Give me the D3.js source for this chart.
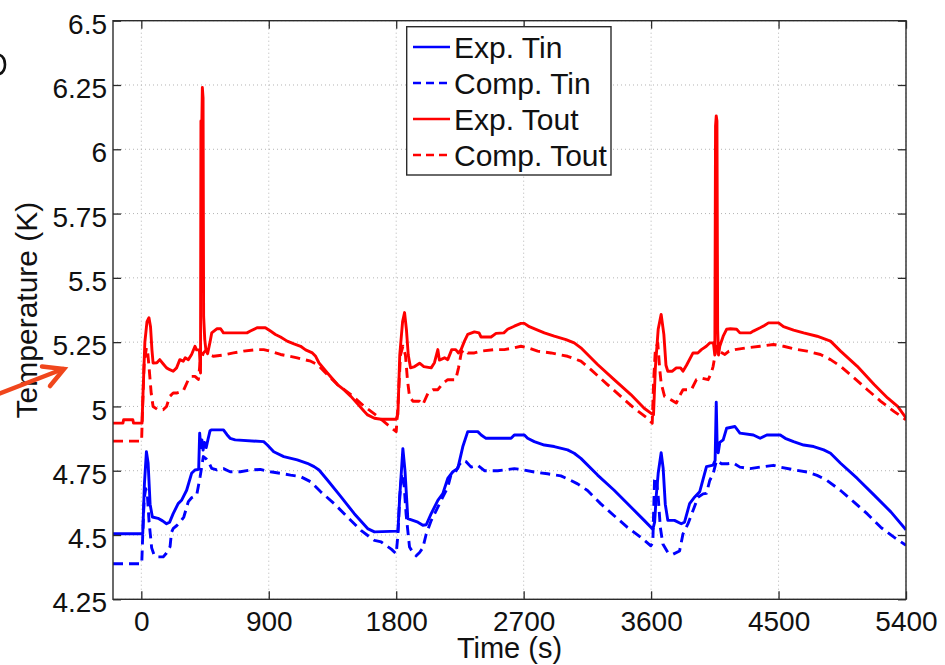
<!DOCTYPE html>
<html>
<head>
<meta charset="utf-8">
<script src="https://cdn.jsdelivr.net/npm/d3@7"></script>
<style>
  html, body { margin: 0; padding: 0; background: #fff; }
  svg { display: block; }
  text { font-family: "Liberation Sans", Arial, Helvetica, sans-serif; fill: #111; }
</style>
</head>
<body>
<svg id="chart" width="945" height="665"></svg>
<script>
// Axis ticks
const xTicks = [0, 900, 1800, 2700, 3600, 4500, 5400];
const yTicks = [4.25, 4.5, 4.75, 5, 5.25, 5.5, 5.75, 6, 6.25, 6.5];

// Series: [time (s), temperature (K)]
const expTin = [
  [-200,4.505],[10,4.505],[22,4.70],[36,4.824],[48,4.78],[62,4.62],[78,4.57],[118,4.565],[150,4.555],[178,4.544],
  [200,4.55],[225,4.583],[260,4.622],[284,4.635],[320,4.674],[355,4.74],[379,4.753],[405,4.755],[412,4.896],[420,4.84],
  [428,4.87],[436,4.83],[446,4.86],[458,4.84],[470,4.87],[485,4.905],[497,4.909],[580,4.909],[605,4.89],[627,4.876],
  [663,4.87],[864,4.863],[890,4.85],[935,4.824],[1006,4.805],[1101,4.792],[1172,4.779],[1220,4.766],[1255,4.753],
  [1314,4.714],[1409,4.649],[1504,4.583],[1598,4.525],[1646,4.512],[1812,4.515],[1825,4.65],[1847,4.836],[1862,4.75],
  [1882,4.564],[1953,4.55],[1988,4.538],[2012,4.54],[2047,4.583],[2094,4.635],[2129,4.661],[2164,4.72],[2200,4.746],
  [2235,4.759],[2270,4.843],[2305,4.902],[2376,4.902],[2400,4.889],[2434,4.876],[2611,4.876],[2634,4.889],[2705,4.889],
  [2728,4.876],[2775,4.863],[2846,4.85],[2916,4.844],[3010,4.831],[3057,4.818],[3104,4.798],[3222,4.733],[3339,4.674],
  [3457,4.609],[3551,4.557],[3612,4.522],[3625,4.55],[3636,4.65],[3650,4.74],[3671,4.82],[3685,4.76],[3700,4.62],
  [3718,4.557],[3765,4.557],[3813,4.544],[3836,4.55],[3872,4.622],[3908,4.648],[3943,4.668],[3991,4.766],[4038,4.772],
  [4052,4.79],[4060,5.016],[4066,4.86],[4074,4.82],[4085,4.86],[4109,4.87],[4133,4.915],[4192,4.922],[4227,4.896],
  [4322,4.889],[4370,4.876],[4417,4.889],[4512,4.889],[4547,4.876],[4606,4.863],[4677,4.85],[4748,4.844],[4819,4.831],
  [4867,4.818],[4938,4.779],[5056,4.72],[5175,4.655],[5293,4.59],[5400,4.52]
];

const compTin = [
  [-200,4.388],[3,4.388],[10,4.5],[20,4.64],[31,4.68],[42,4.66],[55,4.55],[73,4.45],[90,4.423],[107,4.415],[155,4.415],
  [178,4.43],[203,4.455],[213,4.51],[226,4.526],[249,4.536],[273,4.55],[300,4.57],[332,4.63],[355,4.645],[391,4.655],
  [415,4.726],[438,4.805],[460,4.795],[474,4.785],[497,4.759],[533,4.753],[580,4.758],[627,4.746],[699,4.746],
  [770,4.753],[841,4.755],[912,4.746],[983,4.74],[1054,4.733],[1125,4.727],[1196,4.707],[1267,4.668],[1362,4.622],
  [1456,4.57],[1551,4.518],[1646,4.479],[1694,4.473],[1765,4.445],[1800,4.427],[1812,4.5],[1825,4.65],[1840,4.74],
  [1855,4.7],[1870,4.58],[1894,4.453],[1918,4.432],[1941,4.419],[1965,4.432],[1988,4.45],[2012,4.504],[2047,4.556],
  [2082,4.595],[2117,4.634],[2164,4.686],[2188,4.737],[2223,4.75],[2247,4.775],[2270,4.79],[2294,4.785],[2329,4.764],
  [2376,4.771],[2423,4.75],[2517,4.75],[2634,4.758],[2680,4.755],[2775,4.745],[2869,4.738],[2963,4.73],[3034,4.712],
  [3081,4.699],[3151,4.673],[3245,4.621],[3339,4.575],[3433,4.53],[3527,4.491],[3598,4.458],[3612,4.47],[3624,4.712],
  [3636,4.725],[3650,4.65],[3665,4.53],[3683,4.465],[3718,4.432],[3754,4.425],[3801,4.438],[3825,4.504],[3860,4.543],
  [3896,4.595],[3931,4.647],[3967,4.66],[3991,4.662],[4014,4.712],[4038,4.738],[4062,4.79],[4097,4.777],[4140,4.777],
  [4180,4.78],[4227,4.764],[4298,4.758],[4370,4.764],[4464,4.771],[4512,4.764],[4606,4.754],[4701,4.745],[4772,4.732],
  [4843,4.712],[4938,4.673],[5033,4.628],[5127,4.582],[5222,4.53],[5317,4.491],[5400,4.46]
];

const expTout = [
  [-200,4.935],[-130,4.935],[-125,4.948],[-60,4.948],[-55,4.935],[5,4.935],[12,5.05],[25,5.25],[40,5.33],[54,5.345],
  [65,5.31],[75,5.22],[83,5.169],[110,5.17],[130,5.182],[155,5.165],[178,5.15],[201,5.143],[225,5.137],[249,5.15],
  [272,5.182],[296,5.176],[310,5.189],[332,5.182],[355,5.202],[379,5.234],[390,5.22],[410,5.22],[418,5.13],[421,6.11],
  [426,6.05],[431,6.24],[436,6.2],[440,5.35],[448,5.26],[456,5.22],[468,5.205],[485,5.25],[497,5.286],[533,5.302],
  [560,5.302],[580,5.286],[746,5.286],[770,5.293],[817,5.306],[876,5.306],[912,5.293],[947,5.28],[983,5.27],[1030,5.254],
  [1078,5.243],[1125,5.234],[1160,5.22],[1208,5.208],[1231,5.195],[1255,5.169],[1314,5.13],[1385,5.085],[1430,5.065],
  [1480,5.039],[1527,5.01],[1575,4.98],[1598,4.967],[1646,4.954],[1693,4.95],[1800,4.95],[1812,4.97],[1825,5.2],
  [1845,5.33],[1859,5.365],[1872,5.3],[1885,5.2],[1901,5.15],[1930,5.155],[1965,5.168],[1995,5.155],[2047,5.15],
  [2070,5.17],[2094,5.221],[2105,5.18],[2141,5.189],[2164,5.182],[2192,5.221],[2220,5.221],[2240,5.208],[2258,5.221],
  [2282,5.254],[2305,5.28],[2352,5.29],[2385,5.286],[2399,5.27],[2470,5.27],[2505,5.284],[2560,5.286],[2587,5.30],
  [2634,5.312],[2681,5.323],[2705,5.323],[2740,5.31],[2799,5.297],[2846,5.286],[2916,5.273],[2999,5.26],[3057,5.247],
  [3104,5.228],[3222,5.163],[3339,5.104],[3457,5.046],[3551,4.993],[3598,4.974],[3617,4.968],[3630,5.15],[3650,5.3],
  [3671,5.358],[3690,5.28],[3705,5.16],[3718,5.137],[3750,5.137],[3778,5.15],[3808,5.15],[3825,5.137],[3850,5.16],
  [3896,5.208],[3930,5.208],[3955,5.221],[3990,5.234],[4014,5.247],[4040,5.247],[4050,5.2],[4055,6.09],[4060,6.13],
  [4065,6.11],[4070,5.3],[4076,5.2],[4085,5.234],[4109,5.273],[4133,5.30],[4160,5.302],[4204,5.30],[4227,5.286],
  [4300,5.286],[4322,5.293],[4370,5.306],[4400,5.315],[4429,5.325],[4500,5.325],[4535,5.31],[4606,5.297],[4677,5.286],
  [4772,5.273],[4867,5.254],[4938,5.215],[5056,5.156],[5175,5.085],[5270,5.033],[5341,5.0],[5400,4.955]
];

const compTout = [
  [-200,4.865],[2,4.865],[8,4.98],[20,5.17],[36,5.228],[45,5.21],[55,5.15],[70,5.05],[83,5.0],[118,4.987],[154,4.987],
  [178,5.0],[201,5.039],[225,5.052],[249,5.052],[296,5.06],[332,5.104],[355,5.117],[379,5.117],[403,5.105],[415,5.17],
  [438,5.208],[462,5.221],[485,5.2],[510,5.195],[580,5.2],[651,5.208],[722,5.215],[817,5.221],[864,5.221],[912,5.215],
  [983,5.202],[1101,5.189],[1196,5.176],[1243,5.163],[1290,5.137],[1385,5.085],[1480,5.046],[1575,5.0],[1670,4.961],
  [1741,4.928],[1800,4.902],[1812,5.0],[1830,5.2],[1847,5.234],[1865,5.2],[1880,5.1],[1894,5.039],[1918,5.02],
  [1965,5.02],[1988,5.007],[2023,5.05],[2059,5.065],[2094,5.065],[2129,5.09],[2164,5.104],[2220,5.104],[2240,5.15],
  [2260,5.21],[2282,5.221],[2305,5.208],[2352,5.208],[2399,5.215],[2493,5.221],[2563,5.221],[2634,5.228],[2681,5.234],
  [2728,5.228],[2799,5.215],[2893,5.208],[3010,5.195],[3104,5.176],[3175,5.143],[3292,5.085],[3386,5.039],[3480,4.993],
  [3574,4.954],[3608,4.935],[3618,5.1],[3630,5.22],[3647,5.247],[3660,5.15],[3671,5.09],[3695,5.039],[3740,5.026],
  [3778,5.013],[3800,5.04],[3825,5.065],[3884,5.065],[3920,5.104],[3960,5.11],[4003,5.104],[4025,5.13],[4038,5.156],
  [4062,5.234],[4080,5.215],[4121,5.202],[4150,5.215],[4192,5.221],[4275,5.228],[4370,5.234],[4464,5.241],[4535,5.234],
  [4606,5.224],[4701,5.215],[4796,5.202],[4867,5.182],[4938,5.156],[5033,5.111],[5127,5.065],[5222,5.02],[5317,4.98],
  [5400,4.948]
];

const seriesNames = ["Exp. Tin", "Comp. Tin", "Exp. Tout", "Comp. Tout"];
const seriesColors = ["#0000ff", "#0000ff", "#ff0000", "#ff0000"];
const seriesDashed = [false, true, false, true];
const seriesData = [expTin, compTin, expTout, compTout];

const svg = d3.select("#chart");
const plot = { left: 113, right: 906, top: 20.7, bottom: 599.3 };

const x = d3.scaleLinear().domain([-200, 5400]).range([plot.left, plot.right]);
const y = d3.scaleLinear().domain([4.25, 6.5]).range([plot.bottom, plot.top]);

const axisColor = "#2b2b2b";
const gridColor = "#b4b4b4";
const fmt = d => String(d);

// Dotted grid
const grid = svg.append("g");
grid.selectAll("line.gx").data(xTicks).join("line")
  .attr("x1", d => x(d)).attr("x2", d => x(d))
  .attr("y1", plot.top).attr("y2", plot.bottom)
  .attr("stroke", gridColor).attr("stroke-width", 1).attr("stroke-dasharray", "1,3");
grid.selectAll("line.gy").data(yTicks).join("line")
  .attr("x1", plot.left).attr("x2", plot.right)
  .attr("y1", d => y(d)).attr("y2", d => y(d))
  .attr("stroke", gridColor).attr("stroke-width", 1).attr("stroke-dasharray", "1,3");

// Data lines
svg.append("defs").append("clipPath").attr("id", "plotClip")
  .append("rect").attr("x", plot.left).attr("y", plot.top)
  .attr("width", plot.right - plot.left).attr("height", plot.bottom - plot.top);

const line = d3.line().x(d => x(d[0])).y(d => y(d[1]));
const lines = svg.append("g").attr("clip-path", "url(#plotClip)");
seriesData.forEach((data, i) => {
  lines.append("path")
    .attr("d", line(data))
    .attr("fill", "none")
    .attr("stroke", seriesColors[i])
    .attr("stroke-width", 2.9)
    .attr("stroke-linejoin", "round")
    .attr("stroke-dasharray", seriesDashed[i] ? "10,6" : null);
});

// Axes with inward ticks on all four sides
const tickFont = "28px";
const gB = svg.append("g").attr("transform", `translate(0,${plot.bottom})`)
  .call(d3.axisBottom(x).tickValues(xTicks).tickFormat(fmt).tickSize(-8).tickPadding(11.5));
const gL = svg.append("g").attr("transform", `translate(${plot.left},0)`)
  .call(d3.axisLeft(y).tickValues(yTicks).tickFormat(fmt).tickSize(-8).tickPadding(6));
const gT = svg.append("g").attr("transform", `translate(0,${plot.top})`)
  .call(d3.axisTop(x).tickValues(xTicks).tickFormat("").tickSize(-8));
const gR = svg.append("g").attr("transform", `translate(${plot.right},0)`)
  .call(d3.axisRight(y).tickValues(yTicks).tickFormat("").tickSize(-8));

[gB, gL, gT, gR].forEach(g => {
  g.select(".domain").remove();
  g.selectAll(".tick line").attr("stroke", axisColor).attr("stroke-width", 1.3);
  g.selectAll("text").attr("font-size", tickFont).attr("fill", "#111")
    .attr("font-family", "'Liberation Sans', Arial, Helvetica, sans-serif");
});
gL.selectAll("text").attr("dy", "0.45em");

svg.append("rect")
  .attr("x", plot.left).attr("y", plot.top)
  .attr("width", plot.right - plot.left).attr("height", plot.bottom - plot.top)
  .attr("fill", "none").attr("stroke", axisColor).attr("stroke-width", 1.4);

// Axis titles
svg.append("text")
  .attr("x", (plot.left + plot.right) / 2).attr("y", 657.5)
  .attr("text-anchor", "middle").attr("font-size", "29px")
  .text("Time (s)");
svg.append("text")
  .attr("transform", `translate(36.5,${(plot.top + plot.bottom) / 2}) rotate(-90)`)
  .attr("text-anchor", "middle").attr("font-size", "30px")
  .text("Temperature (K)");

// Legend
const legend = svg.append("g");
legend.append("rect")
  .attr("x", 406.7).attr("y", 26.7).attr("width", 204.3).attr("height", 148.3)
  .attr("fill", "#fff").attr("stroke", axisColor).attr("stroke-width", 1.4);
seriesNames.forEach((name, i) => {
  const ly = 47 + i * 36;
  legend.append("line")
    .attr("x1", 413).attr("x2", 450).attr("y1", ly).attr("y2", ly)
    .attr("stroke", seriesColors[i]).attr("stroke-width", 2.4)
    .attr("stroke-dasharray", seriesDashed[i] ? "8,5" : null);
  legend.append("text")
    .attr("x", 454).attr("y", ly + 10.8)
    .attr("font-size", "30px")
    .text(name);
});

// Orange pointer arrow at the left margin
const arrow = svg.append("g").attr("stroke", "#f0461c").attr("stroke-width", 4.5)
  .attr("stroke-linecap", "round").attr("fill", "none");
arrow.append("line").attr("x1", -4).attr("y1", 395).attr("x2", 63).attr("y2", 369);
arrow.append("polyline").attr("points", "42,366.5 64,369 50,386");

// Bowl of a glyph from the neighbouring panel, clipped by the left edge
svg.append("path")
  .attr("d", "M -6 54 Q 5 54 5 64.5 Q 5 75 -6 75")
  .attr("fill", "none").attr("stroke", "#111").attr("stroke-width", 2.6);
</script>
</body>
</html>
